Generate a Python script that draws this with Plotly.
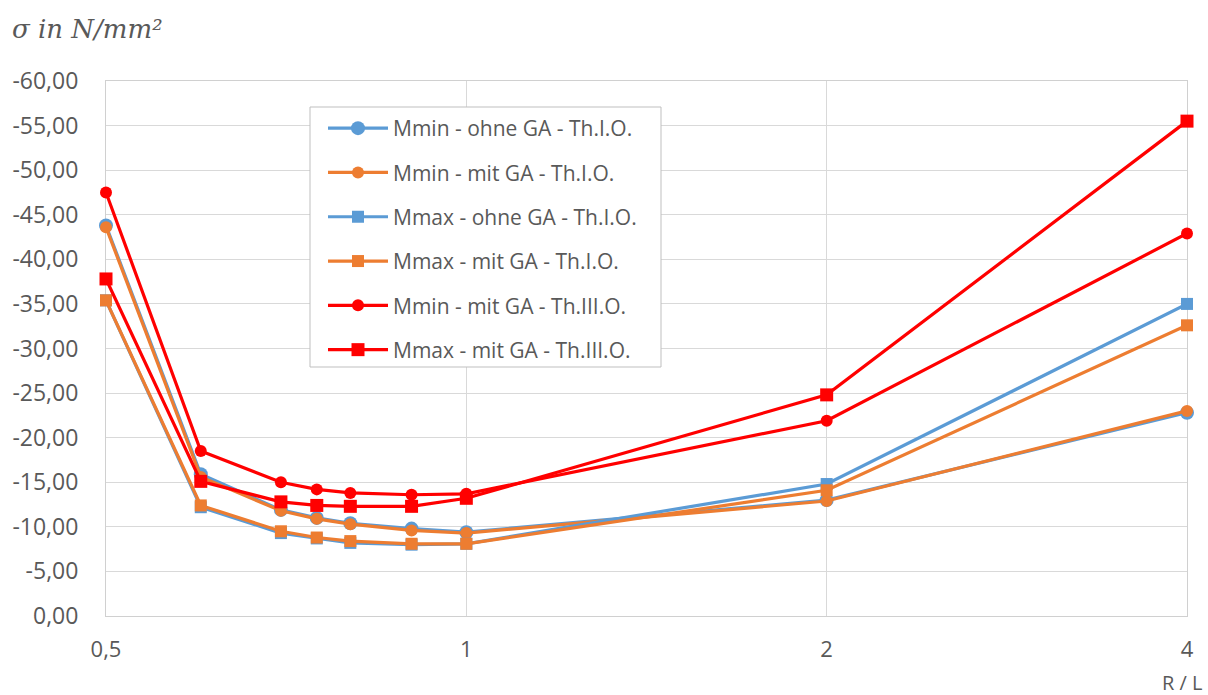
import plotly.graph_objects as go
import math

# R / L ratios
x_vals = [0.5, 0.6, 0.7, 0.75, 0.8, 0.9, 1.0, 2.0, 4.0]

# stresses in N/mm^2
mmin_ohne_I = [-43.8, -15.9, -11.9, -11.0, -10.4, -9.8, -9.4, -13.0, -22.8]
mmin_mit_I = [-43.6, -15.6, -11.8, -10.9, -10.3, -9.6, -9.3, -12.9, -23.0]
mmax_ohne_I = [-35.4, -12.2, -9.3, -8.7, -8.2, -8.0, -8.1, -14.8, -35.0]
mmax_mit_I = [-35.4, -12.4, -9.5, -8.8, -8.4, -8.1, -8.1, -14.1, -32.6]
mmin_mit_III = [-47.5, -18.5, -15.0, -14.2, -13.8, -13.6, -13.7, -21.9, -42.9]
mmax_mit_III = [-37.8, -15.1, -12.8, -12.4, -12.3, -12.3, -13.2, -24.8, -55.5]

names = [
    "Mmin - ohne GA - Th.I.O.",
    "Mmin - mit GA - Th.I.O.",
    "Mmax - ohne GA - Th.I.O.",
    "Mmax - mit GA - Th.I.O.",
    "Mmin - mit GA - Th.III.O.",
    "Mmax - mit GA - Th.III.O.",
]
series = [mmin_ohne_I, mmin_mit_I, mmax_ohne_I, mmax_mit_I, mmin_mit_III, mmax_mit_III]
colors = ["#5B9BD5", "#ED7D31", "#5B9BD5", "#ED7D31", "#FF0000", "#FF0000"]
symbols = ["circle", "circle", "square", "square", "circle", "square"]
msizes = [14, 12, 12, 12, 12, 13]

y_tickvals = [0, -5, -10, -15, -20, -25, -30, -35, -40, -45, -50, -55, -60]
y_ticktext = ["0,00", "-5,00", "-10,00", "-15,00", "-20,00", "-25,00", "-30,00",
              "-35,00", "-40,00", "-45,00", "-50,00", "-55,00", "-60,00"]
x_tickvals = [0.5, 1, 2, 4]
x_ticktext = ["0,5", "1", "2", "4"]

fig = go.Figure()
for i, (nm, ys) in enumerate(zip(names, series)):
    fig.add_trace(go.Scatter(
        x=x_vals, y=ys, name=nm, mode="lines+markers",
        line=dict(color=colors[i], width=3.2),
        marker=dict(symbol=symbols[i], size=msizes[i], color=colors[i]),
        legendgroup=str(i), cliponaxis=False,
    ))

grey = "#595959"
fig.update_layout(
    width=1208, height=695,
    margin=dict(l=106, r=21, t=81, b=79),
    paper_bgcolor="white", plot_bgcolor="white",
    font=dict(family="Open Sans", color=grey),
    showlegend=True,
    legend=dict(
        x=(323 - 106) / 1081, y=(616 - 108) / 535, xanchor="left", yanchor="top",
        borderwidth=0, bgcolor="rgba(0,0,0,0)",
        font=dict(size=21, color=grey, family="Open Sans"),
        tracegroupgap=14, traceorder="grouped", itemwidth=60,
    ),
    shapes=[dict(
        type="rect", xref="paper", yref="paper", layer="above",
        x0=(310 - 106) / 1081, x1=(661 - 106) / 1081,
        y0=(616 - 367) / 535, y1=(616 - 107) / 535,
        line=dict(color="#bfbfbf", width=1), fillcolor="white",
    )],
    xaxis=dict(
        type="log", range=[math.log10(0.5), math.log10(4)],
        tickvals=x_tickvals, ticktext=x_ticktext,
        showgrid=True, gridcolor="#d9d9d9", gridwidth=1,
        showline=True, linecolor="#d0d0d0", linewidth=1, mirror=True,
        ticks="", ticklabelstandoff=14, layer="below traces",
        tickfont=dict(size=22, color=grey), zeroline=False,
    ),
    yaxis=dict(
        range=[0, -60], tickvals=y_tickvals, ticktext=y_ticktext,
        showgrid=True, gridcolor="#d9d9d9", gridwidth=1,
        showline=True, linecolor="#d0d0d0", linewidth=1, mirror=True,
        ticks="", ticklabelstandoff=22, layer="below traces",
        tickfont=dict(size=23, color=grey), zeroline=False,
    ),
    annotations=[
        dict(text="<i>σ in N/mm²</i>", xref="paper", yref="paper",
             x=(10 - 106) / 1081, y=1 + 52 / 535, xanchor="left", yanchor="middle",
             showarrow=False,
             font=dict(family="DejaVu Serif", size=26, color=grey)),
        dict(text="R / L", xref="paper", yref="paper",
             x=(1205 - 106) / 1081, y=-66 / 535, xanchor="right", yanchor="middle",
             showarrow=False,
             font=dict(family="Open Sans", size=20, color=grey)),
    ],
)

fig.write_html("out.html", config={"displayModeBar": False},
               post_script="document.body.style.margin='0px';")
